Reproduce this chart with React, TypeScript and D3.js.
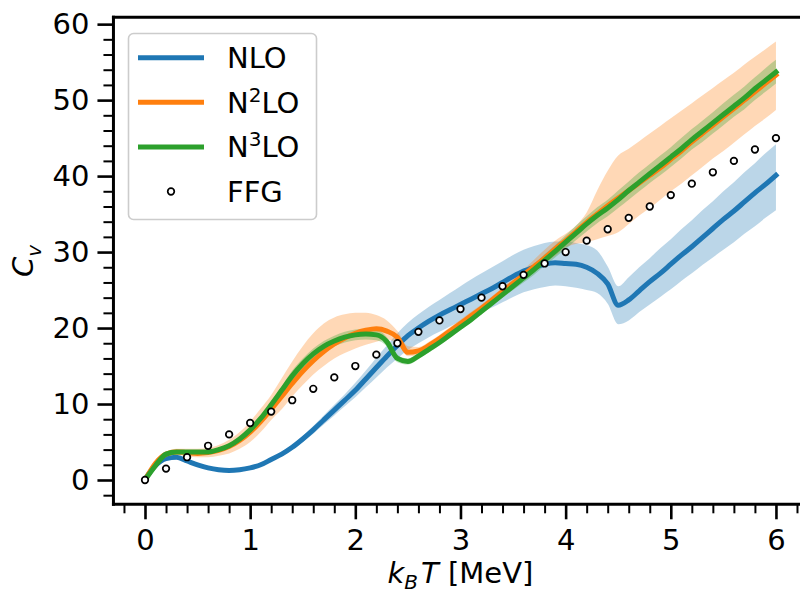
import React, { useEffect, useRef } from "react";
import * as d3 from "d3";

// temperature grid (MeV) shared by the three EFT orders
const temps = [
  0, 0.1, 0.2, 0.3, 0.4, 0.5, 0.6, 0.7, 0.8, 0.9,
  1.0, 1.1, 1.2, 1.3, 1.4, 1.5, 1.6, 1.7, 1.8, 1.9,
  2.0, 2.1, 2.2, 2.3, 2.4, 2.5, 2.6, 2.7, 2.8, 2.9,
  3.0, 3.1, 3.2, 3.3, 3.4, 3.5, 3.6, 3.7, 3.8, 3.9,
  4.0, 4.1, 4.2, 4.3, 4.4, 4.5, 4.6, 4.7, 4.8, 4.9,
  5.0, 5.1, 5.2, 5.3, 5.4, 5.5, 5.6, 5.7, 5.8, 5.9,
  6.0,
];

const nloMid = [
  0.1, 1.9, 2.8, 3.0, 2.5, 2.0, 1.6, 1.35, 1.25, 1.35,
  1.6, 2.0, 2.7, 3.4, 4.3, 5.4, 6.6, 7.9, 9.2, 10.5,
  11.8, 13.3, 14.8, 16.3, 17.7, 19.0, 20.0, 20.9, 21.7, 22.4,
  23.1, 23.8, 24.5, 25.2, 26.0, 26.8, 27.5, 28.0, 28.4, 28.6,
  28.5, 28.4, 28.0, 27.2, 25.8, 23.0, 23.7, 24.9, 26.1, 27.2,
  28.4, 29.6, 30.7, 31.9, 33.1, 34.3, 35.4, 36.6, 37.8, 38.9,
  40.1,
];
const nloLo = [
  0.0, 1.7, 2.6, 2.8, 2.3, 1.8, 1.4, 1.15, 1.05, 1.15,
  1.4, 1.8, 2.45, 3.1, 4.0, 5.0, 6.1, 7.3, 8.5, 9.7,
  10.9, 12.2, 13.5, 14.8, 16.0, 17.1, 18.0, 18.8, 19.5, 20.2,
  20.9, 21.5, 22.1, 22.7, 23.4, 24.1, 24.7, 25.1, 25.4, 25.6,
  25.5, 25.3, 25.0, 24.6, 23.2, 20.5, 21.0, 22.1, 23.1, 24.1,
  25.1, 26.2, 27.2, 28.3, 29.3, 30.3, 31.3, 32.4, 33.4, 34.5,
  35.5,
];
const nloHi = [
  0.2, 2.1, 3.0, 3.2, 2.7, 2.2, 1.8, 1.55, 1.45, 1.55,
  1.8, 2.2, 2.95, 3.7, 4.6, 5.8, 7.1, 8.5, 9.9, 11.3,
  12.8, 14.4, 16.1, 17.7, 19.3, 20.7, 21.8, 22.8, 23.7, 24.6,
  25.5, 26.4, 27.2, 28.0, 28.8, 29.6, 30.3, 30.8, 31.2, 31.4,
  31.4, 31.2, 30.9, 30.2, 28.1, 25.5, 26.7, 28.0, 29.2, 30.5,
  31.7, 33.0, 34.2, 35.5, 36.7, 38.0, 39.2, 40.5, 41.7, 43.0,
  44.2,
];

const n2loMid = [
  0, 2.2, 3.4, 3.7, 3.6, 3.5, 3.6, 3.9, 4.4, 5.2,
  6.3, 7.7, 9.3, 11.0, 12.7, 14.3, 15.7, 16.9, 17.9, 18.7,
  19.3, 19.7, 19.9, 19.6, 18.8, 16.8, 17.0, 17.7, 18.6, 19.6,
  20.6, 21.6, 22.6, 23.7, 24.8, 25.9, 27.0, 28.1, 29.2, 30.4,
  31.5, 32.7, 33.9, 35.0, 36.1, 37.1, 38.1, 39.1, 40.1, 41.1,
  42.2, 43.3, 44.5, 45.6, 46.7, 47.8, 48.9, 50.0, 51.1, 52.2,
  53.3,
];
const n2loLo = [
  -0.1, 2.0, 3.1, 3.3, 3.1, 3.0, 3.0, 3.2, 3.5, 4.1,
  5.0, 6.3, 7.9, 9.3, 11.0, 12.5, 13.9, 15.0, 16.0, 16.7,
  17.3, 17.8, 18.2, 18.5, 18.0, 16.3, 16.5, 17.2, 18.1, 19.1,
  20.1, 21.1, 22.1, 23.2, 24.3, 25.3, 26.4, 27.4, 28.5, 29.5,
  30.6, 31.1, 31.3, 31.7, 32.1, 32.6, 33.7, 34.8, 35.8, 36.9,
  38.0, 39.0, 40.1, 41.2, 42.3, 43.3, 44.4, 45.5, 46.6, 47.6,
  48.7,
];
const n2loHi = [
  0.1, 2.4, 3.7, 4.1, 4.1, 4.1, 4.2, 4.6, 5.3, 6.3,
  7.7, 9.4, 11.2, 13.4, 15.6, 17.6, 19.3, 20.6, 21.4, 21.8,
  22.0, 22.0, 21.7, 21.0, 19.6, 17.6, 17.5, 18.2, 19.1, 20.1,
  21.1, 22.1, 23.1, 24.2, 25.3, 26.5, 27.7, 29.0, 30.3, 31.5,
  32.4, 33.5, 35.2, 38.1, 40.7, 42.7, 43.6, 44.6, 45.6, 46.6,
  47.6, 48.6, 49.6, 50.6, 51.6, 52.6, 53.6, 54.7, 55.7, 56.7,
  57.7,
];

const n3loMid = [
  0, 1.9, 3.4, 3.7, 3.7, 3.7, 3.7, 4.0, 4.5, 5.4,
  6.6, 8.1, 9.9, 11.8, 13.7, 15.3, 16.6, 17.6, 18.3, 18.8,
  19.1, 19.2, 19.1, 18.2, 16.0, 15.6, 16.3, 17.2, 18.1, 19.1,
  20.1, 21.1, 22.2, 23.3, 24.4, 25.5, 26.6, 27.7, 28.9, 30.1,
  31.3, 32.5, 33.7, 34.8, 35.8, 36.9, 38.1, 39.2, 40.3, 41.4,
  42.5, 43.6, 44.8, 45.9, 47.0, 48.1, 49.2, 50.3, 51.5, 52.6,
  53.7,
];
const n3loLo = [
  -0.2, 1.7, 3.2, 3.5, 3.5, 3.5, 3.5, 3.8, 4.3, 5.2,
  6.4, 7.8, 9.5, 11.3, 13.0, 14.6, 15.9, 16.9, 17.6, 18.1,
  18.4, 18.5, 18.4, 17.6, 15.5, 15.2, 15.9, 16.8, 17.7, 18.7,
  19.7, 20.7, 21.8, 22.9, 24.0, 25.0, 26.0, 27.0, 28.2, 29.3,
  30.4, 31.6, 32.7, 33.8, 34.7, 35.8, 36.9, 38.0, 39.1, 40.1,
  41.2, 42.3, 43.5, 44.5, 45.6, 46.7, 47.8, 48.8, 50.0, 51.1,
  52.2,
];
const n3loHi = [
  0.2, 2.1, 3.6, 3.9, 3.9, 3.9, 3.9, 4.2, 4.7, 5.6,
  6.8, 8.4, 10.3, 12.3, 14.4, 16.0, 17.3, 18.3, 19.0, 19.5,
  19.8, 19.9, 19.8, 18.8, 16.5, 16.0, 16.7, 17.6, 18.5, 19.5,
  20.5, 21.5, 22.6, 23.7, 24.8, 26.0, 27.2, 28.4, 29.7, 30.9,
  32.2, 33.5, 34.7, 35.9, 36.9, 38.1, 39.3, 40.5, 41.6, 42.7,
  43.8, 45.0, 46.2, 47.3, 48.4, 49.6, 50.7, 51.8, 53.0, 54.2,
  55.3,
];

// free Fermi gas reference points
const ffgT = [
  0, 0.2, 0.4, 0.6, 0.8, 1.0, 1.2, 1.4, 1.6, 1.8, 2.0,
  2.2, 2.4, 2.6, 2.8, 3.0, 3.2, 3.4, 3.6, 3.8, 4.0,
  4.2, 4.4, 4.6, 4.8, 5.0, 5.2, 5.4, 5.6, 5.8, 6.0,
];
const ffgCv = [
  0, 1.5, 3.0, 4.5, 6.0, 7.5, 9.0, 10.5, 12.0, 13.5, 15.0,
  16.5, 18.0, 19.5, 21.0, 22.5, 24.0, 25.5, 27.0, 28.5, 30.0,
  31.5, 33.0, 34.5, 36.0, 37.5, 39.0, 40.5, 42.0, 43.5, 45.0,
];

const xTicks = [0, 1, 2, 3, 4, 5, 6];
const yTicks = [0, 10, 20, 30, 40, 50, 60];

const FONT = "DejaVu Sans, sans-serif";

function App() {
  const svgRef = useRef<SVGSVGElement>(null);

  useEffect(() => {
    const svg = d3.select(svgRef.current);
    svg.selectAll("*").remove();

    const left = 113.45, right = 807.5, top = 17.3, bottom = 504.3;
    const x = d3.scaleLinear().domain([-0.3, 6.3]).range([left, right]);
    const y = d3.scaleLinear().domain([-3.2, 60.9]).range([bottom, top]);

    const series = [
      { name: "NLO", mid: nloMid, lo: nloLo, hi: nloHi, color: "#1f77b4" },
      { name: "N2LO", mid: n2loMid, lo: n2loLo, hi: n2loHi, color: "#ff7f0e" },
      { name: "N3LO", mid: n3loMid, lo: n3loLo, hi: n3loHi, color: "#2ca02c" },
    ];

    // bands first (matplotlib puts fills under lines)
    series.forEach((s) => {
      const band = d3.area<number>()
        .x((d) => x(d))
        .y0((d, i) => y(s.lo[i]))
        .y1((d, i) => y(s.hi[i]))
        .curve(d3.curveMonotoneX);
      svg.append("path")
        .attr("d", band(temps))
        .attr("fill", s.color)
        .attr("fill-opacity", 0.3)
        .attr("stroke", "none");
    });

    series.forEach((s) => {
      const line = d3.line<number>()
        .x((d) => x(d))
        .y((d, i) => y(s.mid[i]))
        .curve(d3.curveMonotoneX);
      svg.append("path")
        .attr("d", line(temps))
        .attr("fill", "none")
        .attr("stroke", s.color)
        .attr("stroke-width", 5)
        .attr("stroke-linejoin", "round")
        .attr("stroke-linecap", "square");
    });

    svg.append("g")
      .selectAll("circle")
      .data(ffgT)
      .join("circle")
      .attr("cx", (d) => x(d))
      .attr("cy", (d, i) => y(ffgCv[i]))
      .attr("r", 3.3)
      .attr("fill", "white")
      .attr("stroke", "black")
      .attr("stroke-width", 1.7);

    // axes
    const xMinor = d3.range(-2, 63, 2).map((v) => v / 10).filter((v) => v % 1 !== 0);
    const yMinor = d3.range(-2, 61, 2).filter((v) => v % 10 !== 0);

    const styleAxis = (g: any, w: number) => {
      g.select(".domain").remove();
      g.selectAll("line").attr("stroke", "#000").attr("stroke-width", w);
      g.selectAll("text")
        .attr("font-size", 29)
        .attr("font-family", FONT)
        .attr("fill", "#000");
    };

    svg.append("g")
      .attr("transform", `translate(0,${bottom})`)
      .call(d3.axisBottom(x).tickValues(xMinor).tickSize(9).tickSizeOuter(0).tickFormat(() => ""))
      .call((g) => styleAxis(g, 2));
    svg.append("g")
      .attr("transform", `translate(0,${bottom})`)
      .call(d3.axisBottom(x).tickValues(xTicks).tickSize(15).tickPadding(10).tickSizeOuter(0).tickFormat(d3.format("d")))
      .call((g) => styleAxis(g, 2.6));

    svg.append("g")
      .attr("transform", `translate(${left},0)`)
      .call(d3.axisLeft(y).tickValues(yMinor).tickSize(10).tickSizeOuter(0).tickFormat(() => ""))
      .call((g) => styleAxis(g, 2));
    svg.append("g")
      .attr("transform", `translate(${left},0)`)
      .call(d3.axisLeft(y).tickValues(yTicks).tickSize(16).tickPadding(8).tickSizeOuter(0).tickFormat(d3.format("d")))
      .call((g) => styleAxis(g, 2.6));

    // spines
    const spines = [
      [left, top, left, bottom],
      [left, bottom, right, bottom],
      [left, top, right, top],
      [right, top, right, bottom],
    ];
    svg.append("g")
      .selectAll("line")
      .data(spines)
      .join("line")
      .attr("x1", (d) => d[0]).attr("y1", (d) => d[1])
      .attr("x2", (d) => d[2]).attr("y2", (d) => d[3])
      .attr("stroke", "#000")
      .attr("stroke-width", 3)
      .attr("stroke-linecap", "square");

    // axis labels
    const xl = svg.append("text")
      .attr("x", (left + right) / 2)
      .attr("y", 583)
      .attr("text-anchor", "middle")
      .attr("font-family", FONT)
      .attr("font-size", 29);
    xl.append("tspan").attr("font-style", "italic").text("k");
    xl.append("tspan").attr("font-style", "italic").attr("font-size", 20).attr("dy", 6).text("B");
    xl.append("tspan").attr("font-style", "italic").attr("dy", -6).attr("dx", 3).text("T");
    xl.append("tspan").text(" [MeV]");

    const yl = svg.append("text")
      .attr("transform", "translate(33,261) rotate(-90)")
      .attr("text-anchor", "middle")
      .attr("font-family", FONT)
      .attr("font-size", 29);
    yl.append("tspan").attr("font-style", "italic").text("C");
    yl.append("tspan").attr("font-style", "italic").attr("font-size", 20).attr("dy", 8).text("v");

    // legend
    const lg = svg.append("g");
    lg.append("rect")
      .attr("x", 128.5).attr("y", 33.5)
      .attr("width", 188).attr("height", 186)
      .attr("rx", 5)
      .attr("fill", "white").attr("fill-opacity", 0.8)
      .attr("stroke", "#cccccc").attr("stroke-width", 1.6);

    const rowY = [57.7, 102.3, 146.9, 191.5];
    series.forEach((s, i) => {
      lg.append("line")
        .attr("x1", 138).attr("x2", 204)
        .attr("y1", rowY[i]).attr("y2", rowY[i])
        .attr("stroke", s.color).attr("stroke-width", 5);
      const t = lg.append("text")
        .attr("x", 227).attr("y", rowY[i] + 10.5)
        .attr("font-family", FONT).attr("font-size", 29);
      if (i === 0) {
        t.text("NLO");
      } else {
        t.append("tspan").text("N");
        t.append("tspan").attr("font-size", 20).attr("dy", -11).text(i === 1 ? "2" : "3");
        t.append("tspan").attr("dy", 11).text("LO");
      }
    });
    lg.append("circle")
      .attr("cx", 171).attr("cy", rowY[3])
      .attr("r", 3.3)
      .attr("fill", "white").attr("stroke", "black").attr("stroke-width", 1.7);
    lg.append("text")
      .attr("x", 227).attr("y", rowY[3] + 10.5)
      .attr("font-family", FONT).attr("font-size", 29)
      .text("FFG");
  }, []);

  return (
    <div style={{ position: "fixed", left: 0, top: 0, background: "white" }}>
      <svg ref={svgRef} width={800} height={595} style={{ display: "block" }} />
    </div>
  );
}

export default App;
